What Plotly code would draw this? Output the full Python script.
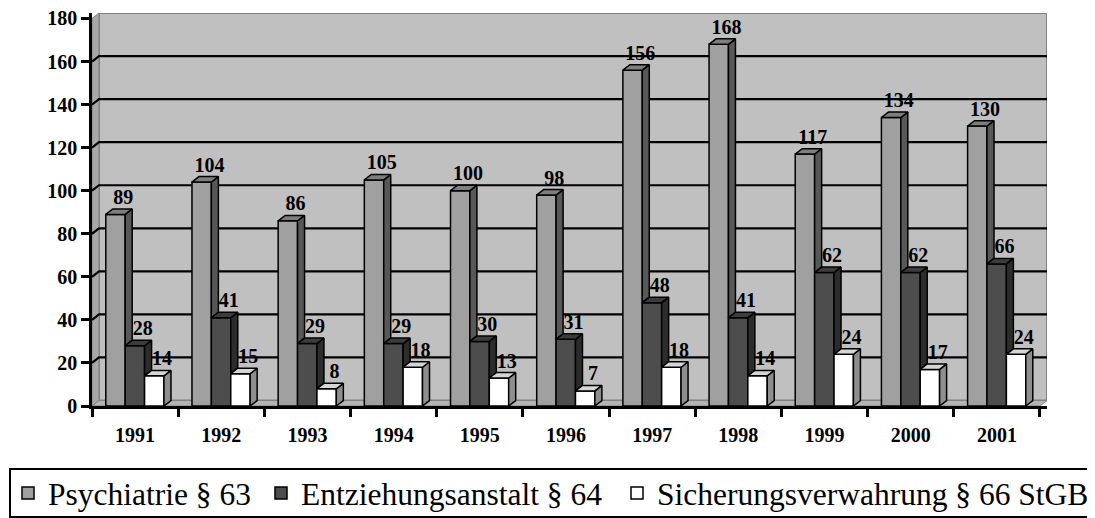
import plotly.graph_objects as go

years = ["1991", "1992", "1993", "1994", "1995", "1996", "1997", "1998", "1999", "2000", "2001"]
psychiatrie = [89, 104, 86, 105, 100, 98, 156, 168, 117, 134, 130]
entziehung = [28, 41, 29, 29, 30, 31, 48, 41, 62, 62, 66]
sicherung = [14, 15, 8, 18, 13, 7, 18, 14, 24, 17, 24]
series_names = ["Psychiatrie § 63", "Entziehungsanstalt § 64", "Sicherungsverwahrung § 66 StGB"]
y_ticks = [0, 20, 40, 60, 80, 100, 120, 140, 160, 180]

# styling
front_colors = ["#A0A0A0", "#4D4D4D", "#FFFFFF"]
top_colors = ["#7E7E7E", "#3C3C3C", "#D6D6D6"]
side_colors = ["#585858", "#2C2C2C", "#8E8E8E"]
BAR_W = 0.225
OFFSETS = [-0.34, -0.115, 0.11]
DX = 0.0813   # depth offset in x data units
DY = 2.54     # depth offset in y data units
YMAX = 180
SERIF = "Liberation Serif"
# the page body has an 8px margin, so the figure is drawn 8px smaller
W, H = 1087, 510
ML, MR, MT, MB = 84, 48, 5, 112
legend_x_px = [0, 253, 609]   # left edge of each legend block (figure pixels)

series = [psychiatrie, entziehung, sicherung]
xpos = list(range(len(years)))

fig = go.Figure()

x_lo, x_hi = -0.5, len(years) - 0.5
shapes = []
# back wall
shapes.append(dict(type="rect", xref="x", yref="y", x0=x_lo + DX, x1=x_hi + DX, y0=DY, y1=YMAX + DY,
                   fillcolor="#C0C0C0", line=dict(color="#808080", width=2), layer="below"))
# left side wall
shapes.append(dict(type="path", xref="x", yref="y",
                   path=f"M {x_lo},0 L {x_lo},{YMAX} L {x_lo+DX},{YMAX+DY} L {x_lo+DX},{DY} Z",
                   fillcolor="#A8A8A8", line=dict(color="#808080", width=1), layer="below"))
# floor
shapes.append(dict(type="path", xref="x", yref="y",
                   path=f"M {x_lo},0 L {x_hi},0 L {x_hi+DX},{DY} L {x_lo+DX},{DY} Z",
                   fillcolor="#B4B4B4", line=dict(color="#808080", width=1), layer="below"))
# gridlines on side wall + back wall
for v in y_ticks[1:-1]:
    shapes.append(dict(type="path", xref="x", yref="y",
                       path=f"M {x_lo},{v} L {x_lo+DX},{v+DY} L {x_hi+DX},{v+DY}",
                       line=dict(color="black", width=2.2), layer="below"))
# legend frame
pw, ph = W - ML - MR, H - MT - MB
shapes.append(dict(type="rect", xref="paper", yref="paper",
                   x0=(2 - ML) / pw, x1=(1085 - ML) / pw,
                   y0=(H - MB - 509) / ph, y1=(H - MB - 461) / ph,
                   line=dict(color="black", width=2), fillcolor="rgba(0,0,0,0)"))

legend_ids = ["legend", "legend2", "legend3"]

# bar fronts
for i, (vals, name) in enumerate(zip(series, series_names)):
    fig.add_trace(go.Bar(
        x=xpos, y=vals, name=name, width=BAR_W, offset=OFFSETS[i],
        marker=dict(color=front_colors[i], line=dict(color="black", width=1.5)),
        hoverinfo="skip", legend=legend_ids[i],
    ))

# 3D top and side faces computed from the data
for i, vals in enumerate(series):
    tx, ty, sx, sy = [], [], [], []
    for k, v in enumerate(vals):
        x0 = xpos[k] + OFFSETS[i]
        x1 = x0 + BAR_W
        tx += [x0, x1, x1 + DX, x0 + DX, x0, None]
        ty += [v, v, v + DY, v + DY, v, None]
        base = series[i + 1][k] if i + 1 < len(series) else 0
        if base < v:
            sx += [x1, x1, x1 + DX, x1 + DX, x1, None]
            sy += [base, v, v + DY, base + DY, base, None]
    fig.add_trace(go.Scatter(x=sx, y=sy, mode="lines", fill="toself", fillcolor=side_colors[i],
                             line=dict(color="black", width=1.5), showlegend=False, hoverinfo="skip"))
    fig.add_trace(go.Scatter(x=tx, y=ty, mode="lines", fill="toself", fillcolor=top_colors[i],
                             line=dict(color="black", width=1.5), showlegend=False, hoverinfo="skip"))

# value labels
for i, vals in enumerate(series):
    fig.add_trace(go.Scatter(
        x=[xpos[k] + OFFSETS[i] + BAR_W / 2 + 0.09 for k in range(len(vals))],
        y=[v + DY for v in vals],
        mode="text", text=[str(v) for v in vals], textposition="top center",
        textfont=dict(family=SERIF, size=20, color="black", weight="bold"),
        showlegend=False, hoverinfo="skip", cliponaxis=False,
    ))

leg_common = dict(orientation="h", xanchor="left", yanchor="top", xref="container", yref="container",
                  y=1 - 458 / H, font=dict(family=SERIF, size=31.5, color="black"),
                  borderwidth=0, bgcolor="rgba(0,0,0,0)", itemwidth=30)

fig.update_layout(
    width=W, height=H,
    margin=dict(l=ML, r=MR, t=MT, b=MB, autoexpand=False),
    paper_bgcolor="white", plot_bgcolor="white",
    shapes=shapes,
    barmode="overlay",
    showlegend=True,
    legend=dict(x=legend_x_px[0] / W, **leg_common),
    legend2=dict(x=legend_x_px[1] / W, **leg_common),
    legend3=dict(x=legend_x_px[2] / W, **leg_common),
    font=dict(family=SERIF, color="black"),
    xaxis=dict(range=[x_lo, x_hi + DX], tickvals=xpos, ticktext=years, ticks="",
               showgrid=False, zeroline=False, showline=True, linecolor="black", linewidth=2.5,
               ticklabelstandoff=9, ticklabeloverflow="allow",
               tickfont=dict(family=SERIF, size=20, color="black", weight="bold"),
               minor=dict(tickmode="linear", tick0=-0.5, dtick=1, ticks="outside", ticklen=8,
                          tickwidth=2.5, tickcolor="black", showgrid=False)),
    yaxis=dict(range=[0, YMAX + DY], tickvals=y_ticks, ticks="outside", ticklen=8, tickwidth=2.5,
               tickcolor="black", showgrid=False, zeroline=False, showline=True, linecolor="black",
               linewidth=2.5, ticklabeloverflow="allow",
               tickfont=dict(family=SERIF, size=20, color="black", weight="bold")),
)

fig.write_html("out.html")
